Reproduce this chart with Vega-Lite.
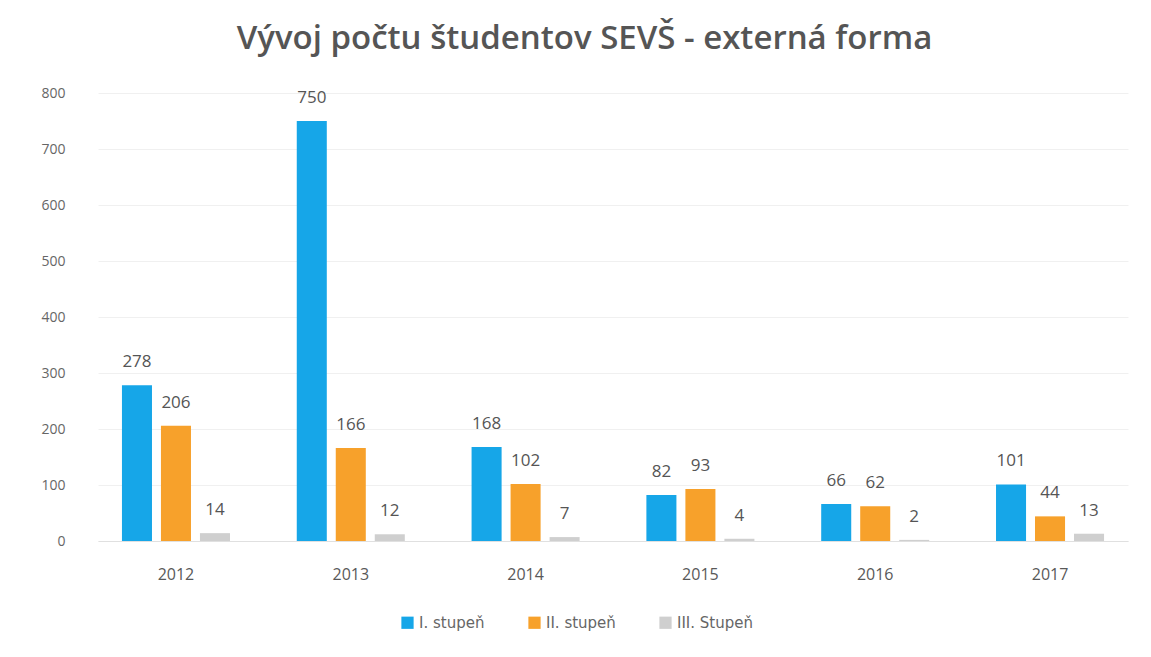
{
  "$schema": "https://vega.github.io/schema/vega-lite/v6.json",
  "width": 1030,
  "height": 448,
  "autosize": {"type": "none"},
  "padding": {"left": 98, "top": 93, "right": 23, "bottom": 116},
  "background": "white",
  "title": {
    "text": "Vývoj počtu študentov SEVŠ - externá forma",
    "font": "Open Sans",
    "fontSize": 33,
    "fontWeight": 600,
    "color": "#555555",
    "offset": 30,
    "anchor": "middle",
    "frame": "bounds"
  },
  "config": {
    "view": {"stroke": null},
    "font": "Open Sans"
  },
  "data": {
    "values": [
      {"year": "2012", "series": "I. stupeň", "value": 278},
      {"year": "2012", "series": "II. stupeň", "value": 206},
      {"year": "2012", "series": "III. Stupeň", "value": 14},
      {"year": "2013", "series": "I. stupeň", "value": 750},
      {"year": "2013", "series": "II. stupeň", "value": 166},
      {"year": "2013", "series": "III. Stupeň", "value": 12},
      {"year": "2014", "series": "I. stupeň", "value": 168},
      {"year": "2014", "series": "II. stupeň", "value": 102},
      {"year": "2014", "series": "III. Stupeň", "value": 7},
      {"year": "2015", "series": "I. stupeň", "value": 82},
      {"year": "2015", "series": "II. stupeň", "value": 93},
      {"year": "2015", "series": "III. Stupeň", "value": 4},
      {"year": "2016", "series": "I. stupeň", "value": 66},
      {"year": "2016", "series": "II. stupeň", "value": 62},
      {"year": "2016", "series": "III. Stupeň", "value": 2},
      {"year": "2017", "series": "I. stupeň", "value": 101},
      {"year": "2017", "series": "II. stupeň", "value": 44},
      {"year": "2017", "series": "III. Stupeň", "value": 13}
    ]
  },
  "encoding": {
    "x": {
      "field": "year",
      "type": "nominal",
      "title": null,
      "scale": {"paddingInner": 0.382, "paddingOuter": 0.137},
      "axis": {
        "labelAngle": 0,
        "labelFontSize": 16,
        "labelColor": "#595959",
        "labelPadding": 25,
        "ticks": false,
        "domain": true,
        "domainColor": "#e0e0e0",
        "grid": false
      }
    },
    "xOffset": {
      "field": "series",
      "type": "nominal",
      "scale": {"paddingInner": 0.23}
    },
    "y": {
      "field": "value",
      "type": "quantitative",
      "title": null,
      "scale": {"domain": [0, 800]},
      "axis": {
        "values": [0, 100, 200, 300, 400, 500, 600, 700, 800],
        "labelFontSize": 14,
        "labelColor": "#666666",
        "labelPadding": 33,
        "ticks": false,
        "domain": false,
        "gridColor": "#f0f0f0"
      }
    },
    "color": {
      "field": "series",
      "type": "nominal",
      "scale": {
        "domain": ["I. stupeň", "II. stupeň", "III. Stupeň"],
        "range": ["#16a6e8", "#f7a12b", "#cfcfcf"]
      },
      "legend": {
        "title": null,
        "orient": "none",
        "legendX": 302,
        "legendY": 522,
        "direction": "horizontal",
        "symbolType": "square",
        "symbolSize": 150,
        "symbolStrokeWidth": 0,
        "labelFont": "DejaVu Sans",
        "labelFontSize": 15,
        "labelColor": "#666666",
        "columnPadding": 42
      }
    }
  },
  "layer": [
    {"mark": {"type": "bar"}},
    {
      "mark": {"type": "text", "dy": -23, "fontSize": 17, "color": "#555555"},
      "encoding": {
        "text": {"field": "value", "type": "quantitative"},
        "color": {"value": "#555555"}
      }
    }
  ]
}
